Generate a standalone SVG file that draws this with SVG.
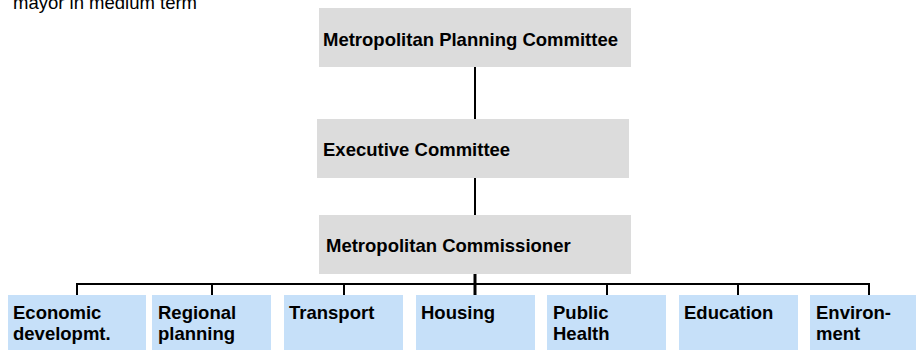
<svg xmlns="http://www.w3.org/2000/svg" width="916" height="350" viewBox="0 0 916 350">
<style>
text{font-family:"Liberation Sans",Arial,sans-serif;font-size:18.5px;fill:#000}
.b{font-weight:bold}
.g{fill:#DCDCDC}
.u{fill:#C6E0F9}
.c{stroke:#000;stroke-width:2;fill:none}
</style>
<rect width="916" height="350" fill="#fff"/>
<text x="13" y="9">mayor in medium term</text>
<g id="connectors">
<line class="c" x1="475" y1="67" x2="475" y2="119"/>
<line class="c" x1="475" y1="178" x2="475" y2="215"/>
<line class="c" x1="475" y1="274" x2="475" y2="295" style="stroke-width:3"/>
<polyline class="c" points="77,295 77,284 869,284 869,295"/>
<line class="c" x1="212" y1="284" x2="212" y2="295"/>
<line class="c" x1="344" y1="284" x2="344" y2="295"/>
<line class="c" x1="607" y1="284" x2="607" y2="295"/>
<line class="c" x1="738" y1="284" x2="738" y2="295"/>
</g>
<g id="planning"><rect class="g" x="319" y="8" width="312" height="59"/><text class="b" x="323" y="46">Metropolitan Planning Committee</text></g>
<g id="executive"><rect class="g" x="317" y="119" width="312" height="59"/><text class="b" x="323" y="156">Executive Committee</text></g>
<g id="commissioner"><rect class="g" x="319" y="215" width="312" height="59"/><text class="b" x="326" y="252">Metropolitan Commissioner</text></g>
<g id="economic"><rect class="u" x="8" y="295" width="138" height="55"/><text class="b" x="13" y="318.5">Economic</text><text class="b" x="13" y="340">developmt.</text></g>
<g id="regional"><rect class="u" x="152" y="295" width="119" height="55"/><text class="b" x="158" y="318.5">Regional</text><text class="b" x="158" y="340">planning</text></g>
<g id="transport"><rect class="u" x="284" y="295" width="119" height="55"/><text class="b" x="289" y="318.5">Transport</text></g>
<g id="housing"><rect class="u" x="416" y="295" width="119" height="55"/><text class="b" x="421" y="318.5">Housing</text></g>
<g id="health"><rect class="u" x="547" y="295" width="119" height="55"/><text class="b" x="553" y="318.5">Public</text><text class="b" x="553" y="340">Health</text></g>
<g id="education"><rect class="u" x="679" y="295" width="119" height="55"/><text class="b" x="684" y="318.5">Education</text></g>
<g id="environment"><rect class="u" x="810" y="295" width="119" height="55"/><text class="b" x="816" y="318.5">Environ-</text><text class="b" x="816" y="340">ment</text></g>
</svg>
